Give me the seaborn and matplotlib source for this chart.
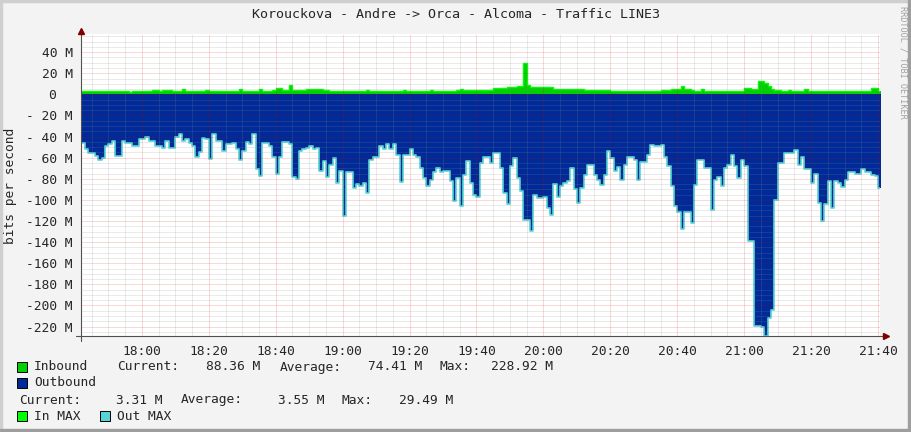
import pandas as pd
import matplotlib
matplotlib.use('Agg')
from matplotlib import pyplot as plt
import matplotlib.dates as mdates
from matplotlib.ticker import FixedLocator, MultipleLocator
from matplotlib.patches import Rectangle
import seaborn as sns

title = 'Korouckova - Andre -> Orca - Alcoma - Traffic LINE3'
first_minute = '2024-01-01 17:41'

# one sample per minute, in M bits/s (drawn below zero)
traffic_down = [
    -46, -46, -52, -56, -56, -58, -62, -60, -49, -47,
    -44, -58, -58, -44, -46, -46, -49, -49, -42, -42,
    -40, -44, -44, -49, -49, -51, -44, -51, -51, -40,
    -38, -44, -42, -46, -49, -59, -55, -41, -42, -61,
    -38, -44, -44, -54, -47, -47, -46, -52, -62, -54,
    -45, -47, -38, -71, -77, -46, -46, -49, -59, -75,
    -59, -45, -45, -47, -78, -80, -54, -52, -51, -49,
    -52, -51, -73, -63, -78, -67, -60, -84, -73, -115,
    -74, -74, -89, -85, -87, -84, -93, -62, -59, -59,
    -49, -52, -47, -52, -47, -57, -83, -57, -57, -52,
    -57, -59, -70, -79, -87, -81, -74, -70, -74, -73,
    -73, -82, -101, -79, -106, -76, -63, -84, -95, -97,
    -65, -59, -59, -65, -56, -56, -70, -93, -104, -68,
    -60, -79, -92, -119, -119, -129, -95, -98, -98, -97,
    -108, -114, -85, -97, -87, -84, -82, -70, -90, -103,
    -89, -76, -67, -67, -76, -81, -86, -76, -54, -60,
    -73, -69, -81, -67, -59, -59, -62, -81, -64, -64,
    -57, -48, -49, -49, -48, -59, -68, -87, -106, -111,
    -128, -111, -111, -122, -86, -62, -62, -70, -70, -110,
    -81, -78, -87, -70, -67, -57, -68, -79, -62, -68,
    -139, -139, -219, -219, -220, -228.92, -212, -204, -100, -65,
    -65, -56, -56, -56, -53, -67, -59, -71, -71, -84,
    -75, -103, -120, -104, -82, -108, -82, -84, -88, -81,
    -74, -74, -75, -75, -71, -74, -74, -76, -77, -88.36,
]

# one sample per minute, in M bits/s (drawn above zero)
traffic_up = [
    2.8, 2.8, 2.9, 2.9, 3.0, 3.0, 2.9, 2.8, 2.9, 3.0,
    3.0, 2.9, 2.9, 2.8, 2.8, 2.7, 2.8, 2.9, 3.0, 3.0,
    3.1, 3.1, 4.2, 4.2, 3.0, 3.7, 3.7, 3.7, 3.0, 3.0,
    3.2, 5.0, 3.2, 3.0, 3.0, 2.9, 3.0, 3.1, 3.8, 3.6,
    3.0, 2.9, 2.9, 3.0, 3.0, 3.1, 3.0, 3.0, 4.8, 3.1,
    3.0, 3.2, 3.4, 3.6, 5.3, 3.6, 3.4, 3.6, 4.0, 6.0,
    6.0, 4.2, 4.2, 8.6, 4.2, 4.2, 4.2, 4.0, 5.2, 5.2,
    5.2, 5.2, 5.0, 3.8, 3.8, 3.4, 3.4, 3.4, 3.4, 3.4,
    3.4, 3.4, 3.4, 3.0, 3.0, 3.1, 4.2, 3.0, 2.9, 2.9,
    3.0, 3.0, 2.9, 3.0, 3.2, 3.0, 3.1, 4.0, 3.0, 3.0,
    3.1, 3.1, 3.0, 3.2, 3.2, 4.2, 3.0, 3.0, 3.1, 3.2,
    3.2, 3.4, 3.6, 3.8, 4.8, 3.8, 3.8, 4.2, 3.8, 3.8,
    4.0, 4.2, 4.2, 4.2, 6.0, 6.0, 6.0, 6.0, 7.4, 7.4,
    7.4, 8.0, 8.0, 29.49, 9.0, 6.8, 6.8, 6.8, 6.8, 6.8,
    6.8, 6.8, 4.9, 4.9, 4.9, 4.9, 4.9, 4.9, 4.9, 5.2,
    5.2, 3.8, 3.8, 3.8, 3.8, 3.8, 3.8, 4.2, 4.2, 3.0,
    3.0, 3.0, 3.3, 3.3, 3.3, 3.3, 3.3, 3.3, 3.3, 3.3,
    3.3, 3.3, 3.3, 3.3, 4.2, 4.2, 4.2, 5.2, 5.2, 5.2,
    8.0, 4.9, 4.9, 4.2, 3.6, 3.6, 5.2, 3.4, 3.4, 3.3,
    3.4, 3.4, 3.3, 3.4, 3.4, 3.3, 3.4, 3.4, 3.3, 5.8,
    5.8, 4.8, 4.8, 12.5, 12.5, 11.0, 8.0, 5.0, 3.8, 3.8,
    3.3, 3.3, 4.2, 3.0, 3.0, 3.0, 3.0, 5.0, 3.2, 3.2,
    3.1, 3.0, 3.0, 3.1, 3.2, 3.2, 3.1, 3.0, 3.0, 3.1,
    3.2, 3.2, 3.1, 3.0, 3.0, 3.1, 3.2, 5.8, 5.8, 3.31,
]

ytick_values = [40, 20, 0, -20, -40, -60, -80, -100, -120, -140, -160, -180, -200, -220]
ytick_labels = ['40 M', '20 M', '0  ', '- 20 M', '- 40 M', '- 60 M', '- 80 M',
                '-100 M', '-120 M', '-140 M', '-160 M', '-180 M', '-200 M', '-220 M']

# legend rows: (text, x position in px, alignment, y position in px)
legend_texts = [
    ('Inbound', 34, 'left', 367), ('Current:', 117, 'left', 367), ('88.36 M', 260, 'right', 367),
    ('Average:', 280, 'left', 367), ('74.41 M', 422, 'right', 367),
    ('Max:', 440, 'left', 367), ('228.92 M', 553, 'right', 367),
    ('Outbound', 34, 'left', 383),
    ('Current:', 19, 'left', 400), ('3.31 M', 163, 'right', 400),
    ('Average:', 181, 'left', 400), ('3.55 M', 324, 'right', 400),
    ('Max:', 342, 'left', 400), ('29.49 M', 453, 'right', 400),
    ('In MAX', 34, 'left', 416), ('Out MAX', 117, 'left', 416),
]

W, H = 911, 432
BLUE = '#002A97'
GREEN = '#00CF00'
IN_MAX = '#00FF00'
OUT_MAX = '#55D5D5'


def fx(x):
    return x / W


def fy(y):
    return 1 - y / H


sns.set_style('white')
plt.rcParams['font.family'] = ['DejaVu Sans Mono']
FS = 9.3

times = pd.date_range(first_minute, periods=len(traffic_down) + 1, freq='min')
df = pd.DataFrame({
    'time': times,
    'down': traffic_down + [traffic_down[-1]],
    'up': traffic_up + [traffic_up[-1]],
})

fig = plt.figure(figsize=(W / 100, H / 100), dpi=100, facecolor='#F3F3F3')
ax = fig.add_axes([fx(81), fy(336), fx(880) - fx(81), (336 - 34) / H])
ax.set_facecolor('white')

ax.fill_between(df.time, 0, df.down, step='post', color=BLUE, lw=0)
ax.fill_between(df.time, 0, df.up, step='post', color=GREEN, lw=0)
sns.lineplot(data=df, x='time', y='up', drawstyle='steps-post', color=IN_MAX, lw=1.0, ax=ax)
sns.lineplot(data=df, x='time', y='down', drawstyle='steps-post', color=OUT_MAX, lw=1.2, ax=ax)

ax.set_xlim(pd.Timestamp('2024-01-01 17:41:48'), pd.Timestamp('2024-01-01 21:40:36'))
ax.set_ylim(-228.9, 57.2)
ax.set_xlabel('')
ax.set_ylabel('')

ax.xaxis.set_major_locator(mdates.MinuteLocator(byminute=[0, 20, 40]))
ax.xaxis.set_minor_locator(mdates.MinuteLocator(byminute=range(0, 60, 5)))
ax.xaxis.set_major_formatter(mdates.DateFormatter('%H:%M'))
ax.yaxis.set_major_locator(FixedLocator(ytick_values))
ax.set_yticklabels(ytick_labels)
ax.yaxis.set_minor_locator(MultipleLocator(5))

ax.set_axisbelow(False)
ax.grid(which='minor', color=(0.55, 0.55, 0.55), alpha=0.35, lw=0.72, ls=(0, (1, 1)))
ax.grid(which='major', color=(0.9, 0, 0), alpha=0.3, lw=0.72, ls=(0, (1, 1)))

ax.tick_params(which='both', direction='out', color='#505050', width=0.7, labelsize=FS)
ax.tick_params(which='major', length=2.2)
ax.tick_params(which='minor', length=1.5)
ax.tick_params(axis='y', pad=3.8)
ax.tick_params(axis='x', pad=4)
for s in ax.spines.values():
    s.set_visible(False)

# axis lines with arrows
ax.plot([0, 0], [-0.015, 1.005], transform=ax.transAxes, clip_on=False, color='#505050', lw=0.8)
ax.plot([-0.006, 1.006], [0, 0], transform=ax.transAxes, clip_on=False, color='#505050', lw=0.8)
ax.plot([0], [1.01], transform=ax.transAxes, clip_on=False, marker='^', ms=4, color='#800000')
ax.plot([1.008], [0], transform=ax.transAxes, clip_on=False, marker='>', ms=4, color='#800000')

fig.text(0.5, fy(14), title, ha='center', va='center', fontsize=9.6)
fig.text(fx(11), fy(186), 'bits per second', rotation=90, ha='center', va='center', fontsize=FS)
fig.text(fx(903), fy(6), 'RRDTOOL / TOBI OETIKER', rotation=270, ha='center', va='top',
         fontsize=6.1, color='#A0A0A0')

for txt, x, ha, y in legend_texts:
    fig.text(fx(x), fy(y), txt, ha=ha, va='center', fontsize=FS)

for x, y, c in [(17, 367, GREEN), (17, 383, BLUE), (17, 416, IN_MAX), (100, 416, OUT_MAX)]:
    fig.patches.append(Rectangle((fx(x), fy(y + 5)), 10 / W, 10 / H, transform=fig.transFigure,
                                 facecolor=c, edgecolor='black', lw=0.7))

# canvas border
fig.patches.append(Rectangle((0, 0), 2 / W, 1, transform=fig.transFigure, color='#CFCFCF'))
fig.patches.append(Rectangle((0, 1 - 2 / H), 1, 2 / H, transform=fig.transFigure, color='#CFCFCF'))
fig.patches.append(Rectangle((1 - 3 / W, 0), 3 / W, 1, transform=fig.transFigure, color='#9E9E9E'))
fig.patches.append(Rectangle((0, 0), 1, 3 / H, transform=fig.transFigure, color='#9E9E9E'))

fig.savefig('out.png', dpi=100, facecolor=fig.get_facecolor())
